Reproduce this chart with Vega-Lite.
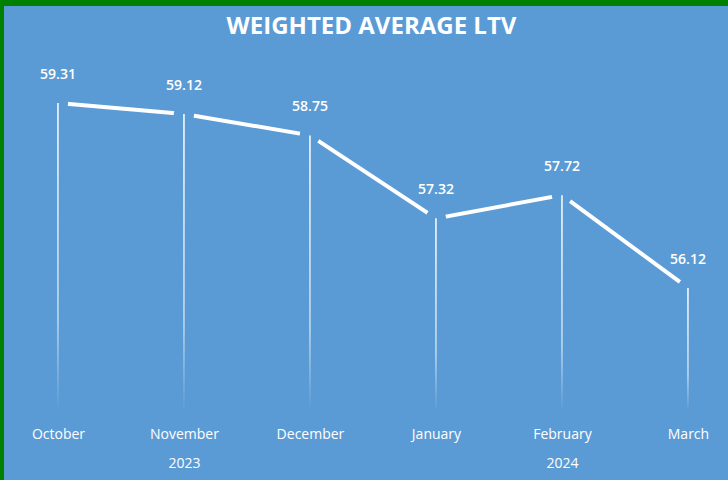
{
  "$schema": "https://vega.github.io/schema/vega-lite/v6.json",
  "width": 728,
  "height": 480,
  "autosize": {"type": "fit", "contains": "padding"},
  "padding": {"top": 6, "left": 4, "right": 0, "bottom": 0},
  "background": "#008000",
  "config": {
    "view": {"fill": "#5B9BD5", "stroke": null},
    "font": "Open Sans"
  },
  "data": {
    "values": [
      {"month": "October", "year": "2023", "ltv": 59.31},
      {"month": "November", "year": "2023", "ltv": 59.12},
      {"month": "December", "year": "2023", "ltv": 58.75},
      {"month": "January", "year": "2024", "ltv": 57.32},
      {"month": "February", "year": "2024", "ltv": 57.72},
      {"month": "March", "year": "2024", "ltv": 56.12}
    ]
  },
  "encoding": {
    "x": {
      "field": "month",
      "type": "ordinal",
      "sort": null,
      "scale": {"type": "point", "padding": 0.373, "align": 0.574},
      "axis": null
    },
    "y": {
      "field": "ltv",
      "type": "quantitative",
      "scale": {"domain": [52.81, 60.98], "zero": false, "nice": false},
      "axis": null
    }
  },
  "layer": [
    {
      "mark": {"type": "line", "color": "white", "strokeWidth": 4},
      "encoding": {
        "x": {
          "field": "month",
          "type": "ordinal",
          "sort": null,
          "axis": {
            "orient": "top",
            "offset": -27,
            "labels": false,
            "ticks": false,
            "domain": false,
            "grid": false,
            "title": "WEIGHTED AVERAGE LTV",
            "titleColor": "white",
            "titleFont": "Open Sans",
            "titleFontSize": 24,
            "titleFontWeight": "bold",
            "titlePadding": 0,
            "titleBaseline": "alphabetic",
            "titleAlign": "center",
            "titleAnchor": "middle",
            "titleX": 367,
            "titleY": 0
          }
        }
      }
    },
    {
      "mark": {"type": "point", "filled": true, "color": "#5B9BD5", "size": 420, "opacity": 1}
    },
    {
      "mark": {
        "type": "bar",
        "width": 1.6,
        "color": {
          "gradient": "linear",
          "x1": 0, "y1": 0, "x2": 0, "y2": 1,
          "stops": [
            {"offset": 0, "color": "rgba(255,255,255,0.95)"},
            {"offset": 0.7, "color": "rgba(255,255,255,0.6)"},
            {"offset": 1, "color": "rgba(255,255,255,0)"}
          ]
        }
      },
      "encoding": {
        "y2": {"datum": 54}
      }
    },
    {
      "mark": {"type": "text", "dy": -28, "color": "white", "fontSize": 14, "fontWeight": 600},
      "encoding": {
        "x": {
          "field": "month",
          "type": "ordinal",
          "sort": null,
          "axis": {
            "title": null,
            "orient": "bottom",
            "offset": -53,
            "domain": false,
            "ticks": false,
            "grid": false,
            "labelColor": "white",
            "labelFontSize": 14,
            "labelPadding": 0,
            "labelBaseline": "top",
            "labelLineHeight": 29,
            "labelAngle": 0,
            "labelOverlap": false,
            "labelFlush": false,
            "labelExpr": "datum.value == 'November' ? ['November', '2023'] : datum.value == 'February' ? ['February', '2024'] : datum.value"
          }
        },
        "text": {"field": "ltv", "type": "quantitative", "format": ".2f"}
      }
    }
  ],
  "resolve": {"axis": {"x": "independent"}}
}
